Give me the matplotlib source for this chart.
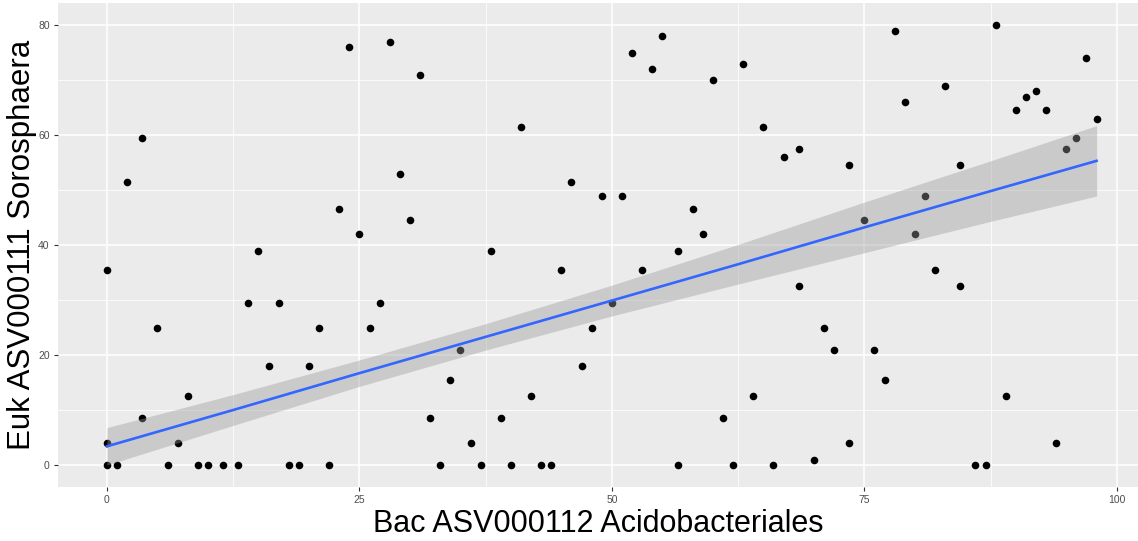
import matplotlib
matplotlib.use("Agg")
import matplotlib.pyplot as plt
import numpy as np

# abundance pairs (Bac ASV000112 vs Euk ASV000111)
bac = np.array([
    0, 1, 6, 9, 10, 11.5, 13, 18, 19, 22, 33, 37, 40, 43, 44, 56.5, 62, 66, 86, 87,
    3.5, 2, 0, 15, 14, 17, 5, 21, 16, 20, 8, 3.5, 0, 7,
    24, 28, 31, 41, 29, 46, 23, 30, 25, 38, 45, 27, 26, 35, 47, 34, 42, 32, 39, 36,
    55, 52, 54, 63, 60, 65, 67, 68.5, 73.5, 49, 51, 58, 59, 56.5, 53, 50, 48, 68.5,
    71, 72, 64, 61, 70, 73.5,
    88, 78, 97, 83, 79, 92, 91, 90, 93, 98, 96, 95, 84.5, 81, 75, 80, 82, 84.5,
    76, 77, 89, 94,
])
euk = np.array([
    0, 0, 0, 0, 0, 0, 0, 0, 0, 0, 0, 0, 0, 0, 0, 0, 0, 0, 0, 0,
    59.5, 51.5, 35.5, 39, 29.5, 29.5, 25, 25, 18, 18, 12.5, 8.5, 4, 4,
    76, 77, 71, 61.5, 53, 51.5, 46.5, 44.5, 42, 39, 35.5, 29.5, 25, 21, 18, 15.5,
    12.5, 8.5, 8.5, 4,
    78, 75, 72, 73, 70, 61.5, 56, 57.5, 54.5, 49, 49, 46.5, 42, 39, 35.5, 29.5, 25,
    32.5, 25, 21, 12.5, 8.5, 1, 4,
    80, 79, 74, 69, 66, 68, 67, 64.5, 64.5, 63, 59.5, 57.5, 54.5, 49, 44.5, 42,
    35.5, 32.5, 21, 15.5, 12.5, 4,
])

# lm smoother as drawn in the reference
fit_x = [0, 12.5, 25, 37.5, 50, 62.5, 75, 87.5, 98]
fit_y = [3.4, 10.0, 16.7, 23.3, 29.9, 36.5, 43.2, 49.8, 55.3]
fit_lo = [0.0, 7.2, 14.3, 20.9, 27.1, 32.9, 38.6, 44.3, 48.9]
fit_hi = [6.8, 12.8, 19.1, 25.7, 32.7, 40.1, 47.8, 55.3, 61.7]

x_title = "Bac ASV000112 Acidobacteriales"
y_title = "Euk ASV000111 Sorosphaera"

plt.rcParams["font.family"] = ["Liberation Sans", "DejaVu Sans"]
fig = plt.figure(figsize=(11.38, 5.41), dpi=100)
ax = fig.add_axes([58 / 1138, 54 / 541, 1 - 58 / 1138, 484 / 541])
ax.set_facecolor("#EBEBEB")
for sp in ax.spines.values():
    sp.set_visible(False)

ax.set_xticks([0, 25, 50, 75, 100])
ax.set_xticks([12.5, 37.5, 62.5, 87.5], minor=True)
ax.set_yticks([0, 20, 40, 60, 80])
ax.set_yticks([10, 30, 50, 70], minor=True)
ax.grid(which="major", color="white", linewidth=1.1)
ax.grid(which="minor", color="white", linewidth=0.55)
ax.set_axisbelow(True)
ax.tick_params(which="major", length=3, width=0.8, color="#333333",
               labelcolor="#4D4D4D", labelsize=7.5, pad=3)
ax.tick_params(which="minor", length=0)

ax.scatter(bac, euk, s=30, color="black", linewidths=0, zorder=2)
ax.fill_between(fit_x, fit_lo, fit_hi, color="#999999",
                alpha=0.4, linewidth=0, zorder=3)
ax.plot(fit_x, fit_y, color="#3366FF", linewidth=1.9, zorder=4)

ax.set_xlim(-4.85, 102.1)
ax.set_ylim(-4.0, 84.0)
ax.set_xlabel(x_title, fontsize=22, labelpad=3)
ax.set_ylabel(y_title, fontsize=22.5, labelpad=1)

fig.savefig("out.png", dpi=100)
